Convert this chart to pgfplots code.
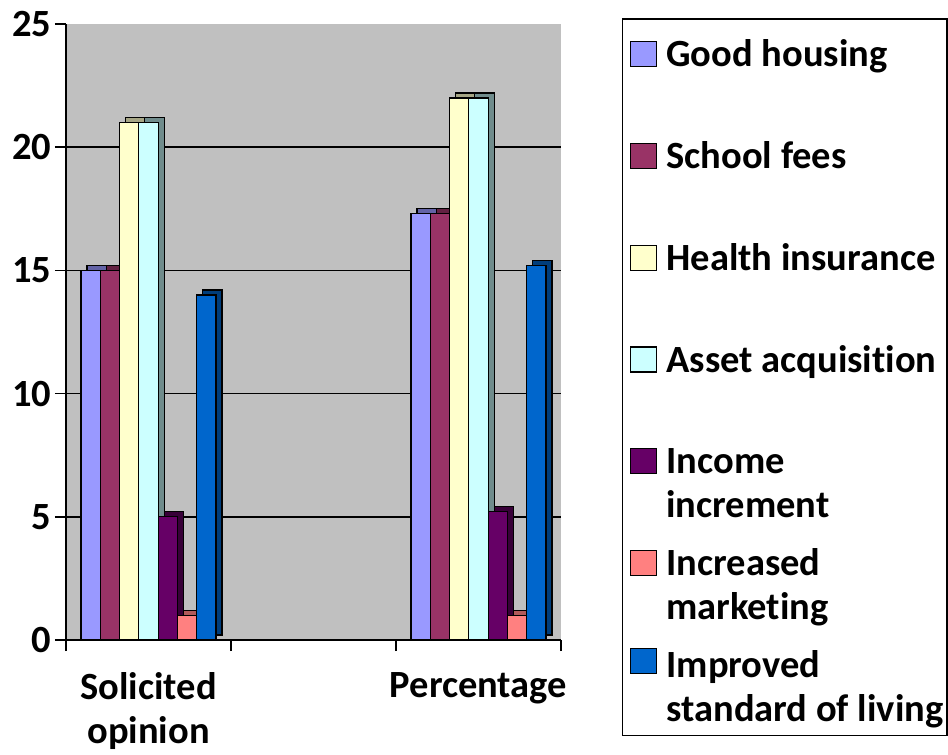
\documentclass[border=0pt]{standalone}
\usepackage{pgfplots}
\pgfplotsset{compat=1.18}
\usepackage{pgfplotstable}
\usepackage{fontspec}
\setmainfont{Carlito}[Ligatures=NoCommon]

\definecolor{cA}{HTML}{9999FF}
\definecolor{cB}{HTML}{993366}
\definecolor{cC}{HTML}{FFFFCC}
\definecolor{cD}{HTML}{CCFFFF}
\definecolor{cE}{HTML}{660066}
\definecolor{cF}{HTML}{FF8080}
\definecolor{cG}{HTML}{0066CC}
\definecolor{wall}{HTML}{C0C0C0}

% categories at 0 and 2, the middle one is empty
\pgfplotstableread{
x    gh   sf   hi  aa  ii  im  isl
0    15   15   21  21  5   1   14
2    17.3 17.3 22  22  5.2 1   15.2
}\datatab

\begin{document}
\begin{tikzpicture}
\useasboundingbox (-66pt,-115pt) rectangle (882pt,640pt);
\begin{axis}[
    at={(0pt,0pt)}, anchor=south west,
    scale only axis,
    width=495pt, height=616pt,
    xmin=-0.5, xmax=2.5,
    ymin=0, ymax=25,
    ybar=0pt, bar width=0.117,
    axis background/.style={fill=wall},
    axis x line=bottom, axis y line=left,
    axis line style={-, black, line width=1.5pt},
    tick style={black, line width=1.5pt},
    tick align=outside,
    major tick length=11pt,
    xtick={-0.5,0.5,1.5,2.5}, xticklabels={},
    extra x ticks={0,2},
    extra x tick labels={Solicited\\opinion, Percentage},
    extra x tick style={major tick length=0pt,
        xticklabel style={align=center, yshift=-29pt}},
    ytick={0,5,10,15,20},
    extra y ticks={25},
    extra y tick style={grid=none},
    ymajorgrids,
    major grid style={black, line width=1.5pt},
    /pgf/number format/assume math mode=true,
    ticklabel style={font=\fontsize{38.5}{44}\selectfont\bfseries},
    legend image code/.code={\path (0pt,0pt); \draw[#1, line width=1.2pt] (4pt,9pt) rectangle (30pt,34pt);},
    legend style={at={(1.1232,1.0097)}, anchor=north west,
        draw=black, line width=1.5pt, fill=white,
        inner xsep=3.5pt, inner ysep=6pt,
        font=\fontsize{38.5}{44}\selectfont\bfseries,
        nodes={inner sep=0pt, text width=277pt, align=flush left,
               text height=42pt, text depth=59.75pt},
        column sep=9pt, row sep=0pt},
    legend cell align=left,
]
% depth faces of the bars, drawn first
\addplot[fill=cA!65!black, draw=black, line width=1.2pt, bar shift=-0.351, xshift=6pt, yshift=5pt, forget plot] table[x=x,y=gh]{\datatab};
\addplot[fill=cB!65!black, draw=black, line width=1.2pt, bar shift=-0.234, xshift=6pt, yshift=5pt, forget plot] table[x=x,y=sf]{\datatab};
\addplot[fill=cC!65!black, draw=black, line width=1.2pt, bar shift=-0.117, xshift=6pt, yshift=5pt, forget plot] table[x=x,y=hi]{\datatab};
\addplot[fill=cD!55!black, draw=black, line width=1.2pt, bar shift=0, xshift=6pt, yshift=5pt, forget plot] table[x=x,y=aa]{\datatab};
\addplot[fill=cE!55!black, draw=black, line width=1.2pt, bar shift=0.117, xshift=6pt, yshift=5pt, forget plot] table[x=x,y=ii]{\datatab};
\addplot[fill=cF!70!black, draw=black, line width=1.2pt, bar shift=0.234, xshift=6pt, yshift=5pt, forget plot] table[x=x,y=im]{\datatab};
\addplot[fill=cG!60!black, draw=black, line width=1.2pt, bar shift=0.351, xshift=6pt, yshift=5pt, forget plot] table[x=x,y=isl]{\datatab};
% front faces
\addplot[fill=cA, draw=black, line width=1.2pt, bar shift=-0.351] table[x=x,y=gh]{\datatab};
\addlegendentry{\mbox{Good housing}}
\addplot[fill=cB, draw=black, line width=1.2pt, bar shift=-0.234] table[x=x,y=sf]{\datatab};
\addlegendentry{\mbox{School fees}}
\addplot[fill=cC, draw=black, line width=1.2pt, bar shift=-0.117] table[x=x,y=hi]{\datatab};
\addlegendentry{\mbox{Health insurance}}
\addplot[fill=cD, draw=black, line width=1.2pt, bar shift=0] table[x=x,y=aa]{\datatab};
\addlegendentry{\mbox{Asset acquisition}}
\addplot[fill=cE, draw=black, line width=1.2pt, bar shift=0.117] table[x=x,y=ii]{\datatab};
\addlegendentry{Income\\increment}
\addplot[fill=cF, draw=black, line width=1.2pt, bar shift=0.234] table[x=x,y=im]{\datatab};
\addlegendentry{Increased\\marketing}
\addplot[fill=cG, draw=black, line width=1.2pt, bar shift=0.351] table[x=x,y=isl]{\datatab};
\addlegendentry[text depth=52pt]{Improved\\\mbox{standard of living}}
\end{axis}
\end{tikzpicture}
\end{document}
